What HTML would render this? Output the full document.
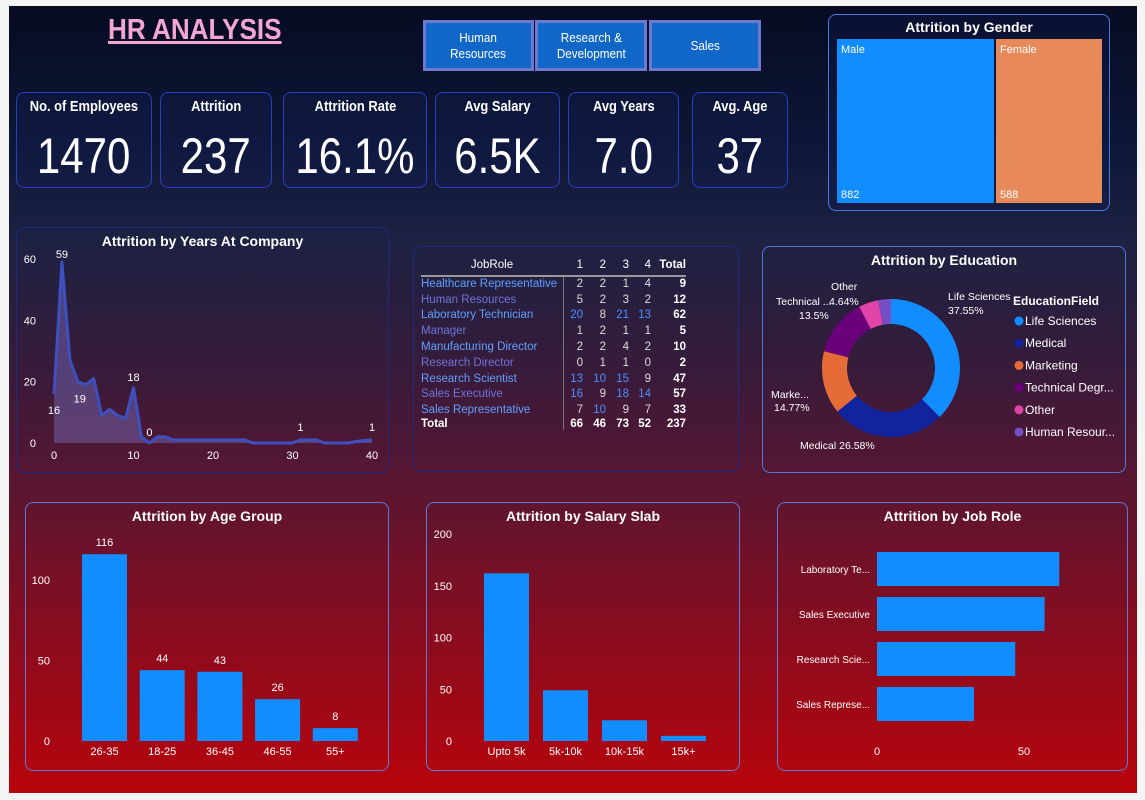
<!DOCTYPE html>
<html><head><meta charset="utf-8">
<style>
*{box-sizing:border-box;margin:0;padding:0}
body{width:1145px;height:800px;background:#f4f4f4;font-family:"Liberation Sans",sans-serif;color:#fff;overflow:hidden;position:relative}
#dash{position:absolute;left:9px;top:6px;width:1128px;height:787px;
background:linear-gradient(180deg,#060b22 0%,#0e1738 18%,#1d2142 30%,#371b3a 46%,#571632 60%,#850d20 78%,#b8040c 100%);overflow:hidden}
.card{position:absolute;border:1px solid #2a3fc0;border-radius:8px;background:rgba(20,30,90,0.25)}
.sq{display:inline-block;transform:scaleX(0.86);transform-origin:center}
.kt{position:absolute;left:0;right:0;top:5px;text-align:center;font-weight:bold;font-size:15px;white-space:nowrap}
.kv{position:absolute;left:0;right:0;top:34px;text-align:center;font-size:50px;white-space:nowrap}
.kv span{display:inline-block;transform:scaleX(0.84)}
.btn{position:absolute;top:14px;height:51px;background:#1167c7;border:3px solid #6b7ad0;text-align:center;font-size:13px;display:flex;align-items:center;justify-content:center;line-height:16px}
.btn span{display:inline-block;transform:scaleX(0.9)}
.ct{position:absolute;left:0;right:0;top:5px;text-align:center;font-weight:bold;font-size:14px}
svg{position:absolute;left:0;top:0;overflow:visible}
svg text{font-family:"Liberation Sans",sans-serif;fill:#fff}
table{border-collapse:collapse;font-size:11.5px}
</style></head><body>
<div id="dash">
<div style="position:absolute;left:99px;top:8px;font-size:29px;font-weight:bold;color:#f4a6d2;text-decoration:underline;text-decoration-thickness:3px;transform:scaleX(0.9);transform-origin:left">HR ANALYSIS</div>
<div class="btn" style="left:414px;width:111px"><span>Human<br>Resources</span></div>
<div class="btn" style="left:526px;width:112px"><span>Research &amp;<br>Development</span></div>
<div class="btn" style="left:640px;width:112px"><span>Sales</span></div>

<div class="card" style="left:7px;top:86px;width:136px;height:96px"><div class="kt"><span class="sq">No. of Employees</span></div><div class="kv"><span>1470</span></div></div>
<div class="card" style="left:151px;top:86px;width:112px;height:96px"><div class="kt"><span class="sq">Attrition</span></div><div class="kv"><span>237</span></div></div>
<div class="card" style="left:274px;top:86px;width:144px;height:96px"><div class="kt"><span class="sq">Attrition Rate</span></div><div class="kv"><span>16.1%</span></div></div>
<div class="card" style="left:426px;top:86px;width:125px;height:96px"><div class="kt"><span class="sq">Avg Salary</span></div><div class="kv"><span>6.5K</span></div></div>
<div class="card" style="left:559px;top:86px;width:111px;height:96px"><div class="kt"><span class="sq">Avg Years</span></div><div class="kv"><span>7.0</span></div></div>
<div class="card" style="left:683px;top:86px;width:96px;height:96px"><div class="kt"><span class="sq">Avg. Age</span></div><div class="kv"><span>37</span></div></div>

<div class="card" style="left:819px;top:8px;width:282px;height:197px;border-color:#4a7ad8">
<div class="ct" style="top:4px">Attrition by Gender</div>
<div style="position:absolute;left:8px;top:24px;width:157px;height:164px;background:#118dff;font-size:11px;padding:5px 4px"><div>Male</div><div style="position:absolute;bottom:2px;left:4px">882</div></div>
<div style="position:absolute;left:167px;top:24px;width:106px;height:164px;background:#e8895a;font-size:11px;padding:5px 4px"><div>Female</div><div style="position:absolute;bottom:2px;left:4px">588</div></div>
</div>

<div class="card" style="left:7px;top:221px;width:373px;height:246px;background:transparent;border-color:#1e2a80"><div class="ct">Attrition by Years At Company</div></div>
<div class="card" style="left:404px;top:240px;width:326px;height:226px;background:transparent;border-color:#1e2a80"></div>
<div class="card" style="left:753px;top:240px;width:364px;height:227px;background:transparent;border-color:#4a7ad8"><div class="ct">Attrition by Education</div></div>
<div class="card" style="left:16px;top:496px;width:364px;height:269px;background:transparent;border-color:#5a7ad8"><div class="ct">Attrition by Age Group</div></div>
<div class="card" style="left:417px;top:496px;width:314px;height:269px;background:transparent;border-color:#5a7ad8"><div class="ct">Attrition by Salary Slab</div></div>
<div class="card" style="left:768px;top:496px;width:351px;height:269px;background:transparent;border-color:#5a7ad8"><div class="ct">Attrition by Job Role</div></div>

<div style="position:absolute;left:412px;top:248px">
<table>
<tr style="height:22px"><td style="width:142px;text-align:center">JobRole</td><td style="width:20px;text-align:right">1</td><td style="width:23px;text-align:right">2</td><td style="width:23px;text-align:right">3</td><td style="width:22px;text-align:right">4</td><td style="width:35px;text-align:right;font-weight:bold">Total</td></tr>
<tbody id="tb"></tbody>
</table>
</div>

<svg id="chart" width="1128" height="787"></svg>
</div>
<script>
const years=[16,59,27,20,19,21,9,11,9,8,18,2,0,2,2,1,1,1,1,1,1,1,1,1,1,0,0,0,0,0,0,1,1,1,0,0,0,0,0.5,0.8,1];
const yearTicks=[0,20,40,60];
const yearXTicks=[0,10,20,30,40];
const roles=["Healthcare Representative","Human Resources","Laboratory Technician","Manager","Manufacturing Director","Research Director","Research Scientist","Sales Executive","Sales Representative"];
const lvl1=[2,5,20,1,2,0,13,16,7],lvl2=[2,2,8,2,2,1,10,9,10],lvl3=[1,3,21,1,4,1,15,18,9],lvl4=[4,2,13,1,2,0,9,14,7];
const eduNames=["Life Sciences","Medical","Marketing","Technical Degr...","Other","Human Resour..."];
const eduPct=[37.55,26.58,14.77,13.5,4.64,2.96];
const ageGroups=["26-35","18-25","36-45","46-55","55+"];
const ageVals=[116,44,43,26,8];
const ageTicks=[0,50,100];
const salSlabs=["Upto 5k","5k-10k","10k-15k","15k+"];
const salVals=[162,49,20,5];
const salTicks=[0,50,100,150,200];
const jobRoles=["Laboratory Te...","Sales Executive","Research Scie...","Sales Represe..."];
const jobVals=[62,57,47,33];
const jobTicks=[0,50];

const NS="http://www.w3.org/2000/svg";
const svg=document.getElementById('chart');
function el(t,a,txt){const e=document.createElementNS(NS,t);for(const k in a)e.setAttribute(k,a[k]);if(txt!==undefined)e.textContent=txt;svg.appendChild(e);return e;}
const OX=9,OY=6;
const tb=document.getElementById('tb');
roles.forEach((r,i)=>{const tr=document.createElement('tr');tr.style.height='15.8px';
const c=i%2?'#6d74d8':'#5ea0ff';
const vals=[lvl1[i],lvl2[i],lvl3[i],lvl4[i]];const tot=vals.reduce((a,b)=>a+b,0);
let h=`<td style="color:${c};border-right:1px solid #777">${r}</td>`;
vals.forEach(v=>{h+=`<td style="text-align:right;color:${v>=10?'#4a90ff':'#ddd'}">${v}</td>`});
h+=`<td style="text-align:right;font-weight:bold">${tot}</td>`;tr.innerHTML=h;


tb.appendChild(tr);});
{const tr=document.createElement('tr');tr.style.fontWeight='bold';
const s=[lvl1,lvl2,lvl3,lvl4].map(a=>a.reduce((x,y)=>x+y,0));
tr.innerHTML=`<td style="border-right:1px solid #777">Total</td>`+s.map(v=>`<td style="text-align:right">${v}</td>`).join('')+`<td style="text-align:right">${s.reduce((a,b)=>a+b,0)}</td>`;


tb.appendChild(tr);}
tb.firstChild.style.borderTop='2px solid #999';
const yx=v=>54+v*(318/40)-OX, yy=v=>443-v*(184/60)-OY;
yearTicks.forEach(t=>{const e=el('text',{x:36-OX,y:yy(t)+4,'font-size':11,'text-anchor':'end'},t);});
yearXTicks.forEach(t=>{const e=el('text',{x:yx(t),y:459-OY,'font-size':11,'text-anchor':'middle'},t);});
let pts=years.map((v,i)=>yx(i)+','+yy(v)).join(' ');
const ar=el('polygon',{points:yx(0)+','+yy(0)+' '+pts+' '+yx(years.length-1)+','+yy(0),fill:'rgba(120,110,190,0.45)'});

const ln=el('polyline',{points:pts,fill:'none',stroke:'#3e4fc0','stroke-width':3,'stroke-linejoin':'round'});

[[0,0,16],[1,0,-4],[4,-6,14],[10,0,-7],[12,0,-7],[31,0,-9],[40,0,-9]].forEach(([i,dx,dy])=>{const e=el('text',{x:yx(i)+dx,y:yy(years[i])+dy+(dy>0?4:0),'font-size':11,'text-anchor':'middle'},Math.round(years[i]));});
const cx=891-OX,cy=368-OY,R=69,r=44;let a0=0;const cols=['#118dff','#12239e','#e66c37','#6b007b','#e044a7','#744ec2'];
const tot=eduPct.reduce((a,b)=>a+b,0);
eduPct.forEach((p,i)=>{const a1=a0+p/tot*Math.PI*2;const P=(a,rr)=>[cx+rr*Math.sin(a),cy-rr*Math.cos(a)];const l=a1-a0>Math.PI?1:0;
const [x1,y1]=P(a0,R),[x2,y2]=P(a1,R),[x3,y3]=P(a1,r),[x4,y4]=P(a0,r);
const e=el('path',{d:`M${x1},${y1}A${R},${R} 0 ${l} 1 ${x2},${y2}L${x3},${y3}A${r},${r} 0 ${l} 0 ${x4},${y4}Z`,fill:cols[i]});
a0=a1;});
[[948,300,'Life Sciences'],[948,314,eduPct[0]+'%'],[800,449,'Medical '+eduPct[1]+'%'],[771,398,'Marke...'],[774,411,eduPct[2]+'%'],[776,305,'Technical ...'],[799,319,eduPct[3]+'%'],[831,290,'Other'],[829,305,eduPct[4]+'%']].forEach(([x,y,t])=>{const e=el('text',{x:x-OX,y:y-OY,'font-size':10.5},t);});
{const e=el('text',{x:1013-OX,y:305-OY,'font-size':12,'font-weight':'bold'},'EducationField');}
eduNames.forEach((n,i)=>{const y=321+i*22.2-OY;const c=el('circle',{cx:1019-OX,cy:y,r:4.5,fill:cols[i]});
const e=el('text',{x:1025-OX,y:y+4,'font-size':12},n);});
const ay=v=>741-v*(161/100)-OY;
ageTicks.forEach(t=>{const e=el('text',{x:50-OX,y:ay(t)+4,'font-size':11,'text-anchor':'end'},t);});
ageVals.forEach((v,i)=>{const x=82+i*57.7-OX;const b=el('rect',{x:x,y:ay(v),width:45,height:ay(0)-ay(v),fill:'#118dff'});
const l=el('text',{x:x+22.5,y:ay(v)-8,'font-size':11,'text-anchor':'middle'},v);
const c=el('text',{x:x+22.5,y:755-OY,'font-size':11,'text-anchor':'middle'},ageGroups[i]);});
const sy=v=>741-v*(207/200)-OY;
salTicks.forEach(t=>{const e=el('text',{x:452-OX,y:sy(t)+4,'font-size':11,'text-anchor':'end'},t);});
salVals.forEach((v,i)=>{const x=484+i*59-OX;const b=el('rect',{x:x,y:sy(v),width:45,height:sy(0)-sy(v),fill:'#118dff'});
const c=el('text',{x:x+22.5,y:755-OY,'font-size':11,'text-anchor':'middle'},salSlabs[i]);});
const jx=v=>877+v*(147/50)-OX;
jobTicks.forEach(t=>{const e=el('text',{x:jx(t),y:755-OY,'font-size':11,'text-anchor':'middle'},t);});
jobVals.forEach((v,i)=>{const y=552+i*45-OY;const b=el('rect',{x:jx(0),y:y,width:jx(v)-jx(0),height:34,fill:'#118dff'});
const c=el('text',{x:870-OX,y:y+21,'font-size':10,'text-anchor':'end'},jobRoles[i]);});
</script>
</body></html>
